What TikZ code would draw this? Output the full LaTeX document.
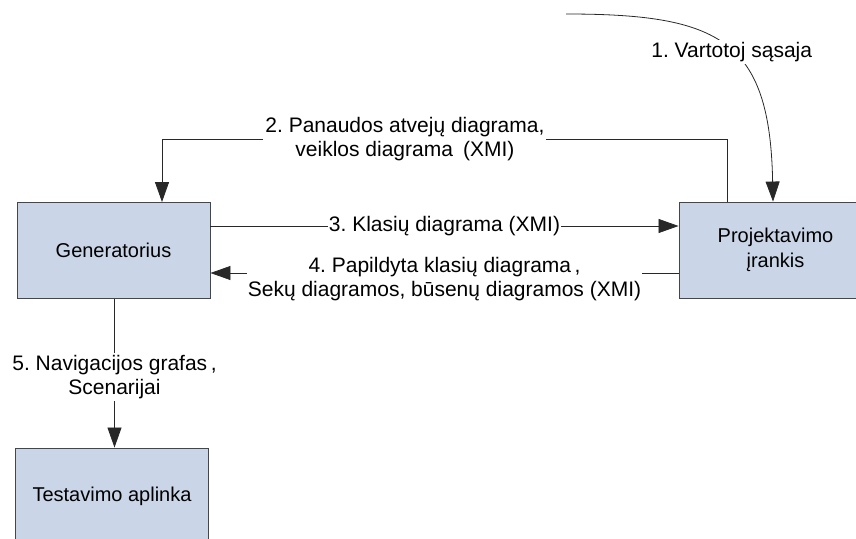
\documentclass[tikz,border=0pt]{standalone}
\usepackage{fontspec}
\setmainfont{Liberation Sans}
\frenchspacing
\usetikzlibrary{arrows.meta}
\definecolor{boxfill}{RGB}{202,214,232}
\definecolor{boxedge}{RGB}{70,70,70}
\definecolor{linecol}{RGB}{40,40,40}
\tikzset{
  block/.style={draw=boxedge, line width=0.9pt, fill=boxfill, minimum width=193pt,
    minimum height=96pt, inner sep=0pt, align=center, font=\fontsize{20}{25}\selectfont},
  flow/.style={draw=linecol, line width=0.8pt},
  tip/.style={-{Triangle[length=20pt,width=14pt]}},
  lbl/.style={fill=white, inner sep=2pt, align=center, font=\fontsize{21}{24}\selectfont}
}
\begin{document}
\begin{tikzpicture}[x=1pt,y=-1pt]
\useasboundingbox (0,0) rectangle (856,538);

% blocks
\node[block] (gen)  at (113.5,250.5) {Generatorius};
\node[block] (proj) at (775.5,250)   {Projektavimo\\įrankis};
\node[block] (test) at (112,496)     {Testavimo aplinka};

% entry of the user interface
\coordinate (ui) at (566,14);
\draw[flow,tip] (ui) .. controls (720,14) and (770,40) .. (proj.north -| 773,0)
  node[lbl,pos=0.53] {1. Vartotoj sąsaja};

% use case / activity diagrams back to the generator
\coordinate (c2a) at (727,139);
\coordinate (c2b) at (162,139);
\draw[flow,tip] (proj.north -| c2a) -- (c2a) -- (c2b)
  node[lbl,pos=0.57] {2. Panaudos atvejų diagrama,\\veiklos diagrama\hspace{0.2em} (XMI)}
  -- (gen.north -| c2b);

% class diagram to the modelling tool
\draw[flow,tip] (gen.east |- 0,226) -- (proj.west |- 0,226)
  node[lbl,midway,inner sep=1pt] {3. Klasių diagrama (XMI)};

% completed diagrams back to the generator
\draw[flow,tip] (proj.west |- 0,273) -- (gen.east |- 0,273)
  node[lbl,midway,yshift=-6pt,inner sep=1pt] {4. Papildyta klasių diagrama\,,\\Sekų diagramos, būsenų diagramos (XMI)};

% navigation graph to the test environment
\draw[flow,tip] (gen.south -| 114.5,0) -- (test.north -| 114.5,0)
  node[lbl,midway,yshift=-4pt] {5. Navigacijos grafas\,,\\Scenarijai};
\end{tikzpicture}
\end{document}
